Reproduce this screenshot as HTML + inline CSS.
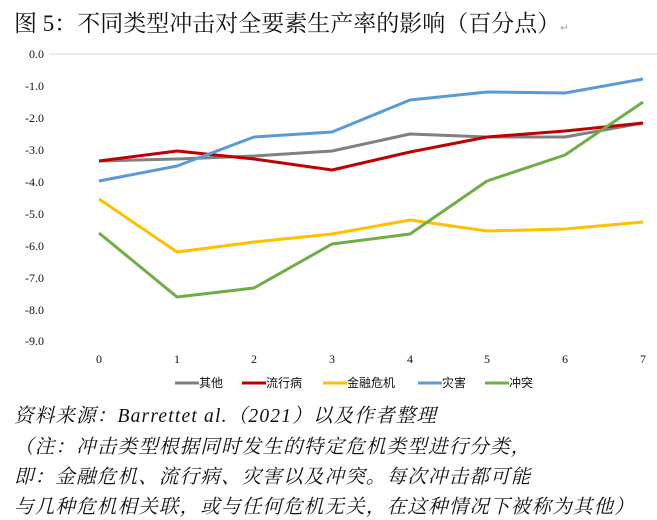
<!DOCTYPE html>
<html><head><meta charset="utf-8"><style>
body{margin:0;width:657px;height:520px;background:#fff;overflow:hidden;font-family:"Liberation Serif","Noto Serif CJK SC",serif;}
.t{position:absolute;left:14px;top:5px;font-size:23px;color:#111;white-space:nowrap}
.n{position:absolute;left:14px;font-size:19.5px;letter-spacing:1.2px;font-style:italic;color:#111;white-space:nowrap;font-family:"Liberation Serif","Noto Serif CJK SC",serif}
</style></head><body>
<div class="t">图 5：不同类型冲击对全要素生产率的影响（百分点）<span style="font-size:10px;color:#999">↵</span></div>
<svg width="657" height="520" style="position:absolute;left:0;top:0">
<g font-family="Liberation Serif,serif" font-size="12" fill="#111" text-anchor="end">
<text x="44" y="58">0.0</text><text x="44" y="90">-1.0</text><text x="44" y="122">-2.0</text><text x="44" y="154">-3.0</text><text x="44" y="186">-4.0</text><text x="44" y="218">-5.0</text><text x="44" y="250">-6.0</text><text x="44" y="282">-7.0</text><text x="44" y="314">-8.0</text><text x="44" y="345">-9.0</text>
</g>
<line x1="49" y1="54" x2="657" y2="54" stroke="#d9d9d9" stroke-width="1"/>
<g font-family="Liberation Serif,serif" font-size="12" fill="#111" text-anchor="middle">
<text x="99" y="363">0</text><text x="177" y="363">1</text><text x="254" y="363">2</text><text x="332" y="363">3</text><text x="410" y="363">4</text><text x="487" y="363">5</text><text x="565" y="363">6</text><text x="643" y="363">7</text>
</g>
<g fill="none" stroke-width="3" stroke-linejoin="round">
<polyline stroke="#808080" points="99,161 177,159 254,156 332,151 410,134 487,137 565,137 643,123"/>
<polyline stroke="#c00000" points="99,161 177,151 254,159 332,170 410,152 487,137 565,131 643,123"/>
<polyline stroke="#ffc000" points="99,199 177,252 254,242 332,234 410,220 487,231 565,229 643,222"/>
<polyline stroke="#5b9bd5" points="99,181 177,166 254,137 332,132 410,100 487,92 565,93 643,79"/>
<polyline stroke="#70ad47" points="99,233 177,297 254,288 332,244 410,234 487,181 565,155 643,102"/>
</g>
<g font-family="Liberation Sans,Noto Sans CJK SC,sans-serif" font-size="12" fill="#111" stroke-width="3">
<line x1="175" y1="383" x2="199" y2="383" stroke="#808080"/><text x="199" y="387">其他</text>
<line x1="242" y1="383" x2="266" y2="383" stroke="#c00000"/><text x="266" y="387">流行病</text>
<line x1="323" y1="383" x2="347" y2="383" stroke="#ffc000"/><text x="347" y="387">金融危机</text>
<line x1="418" y1="383" x2="442" y2="383" stroke="#5b9bd5"/><text x="442" y="387">灾害</text>
<line x1="485" y1="383" x2="509" y2="383" stroke="#70ad47"/><text x="509" y="387">冲突</text>
</g>
</svg>
<div class="n" style="top:400px">资料来源：Barrettet al.（2021）以及作者整理</div>
<div class="n" style="top:431px">（注：冲击类型根据同时发生的特定危机类型进行分类，</div>
<div class="n" style="top:461px">即：金融危机、流行病、灾害以及冲突。每次冲击都可能</div>
<div class="n" style="top:491px">与几种危机相关联，或与任何危机无关，在这种情况下被称为其他）</div>
</body></html>
